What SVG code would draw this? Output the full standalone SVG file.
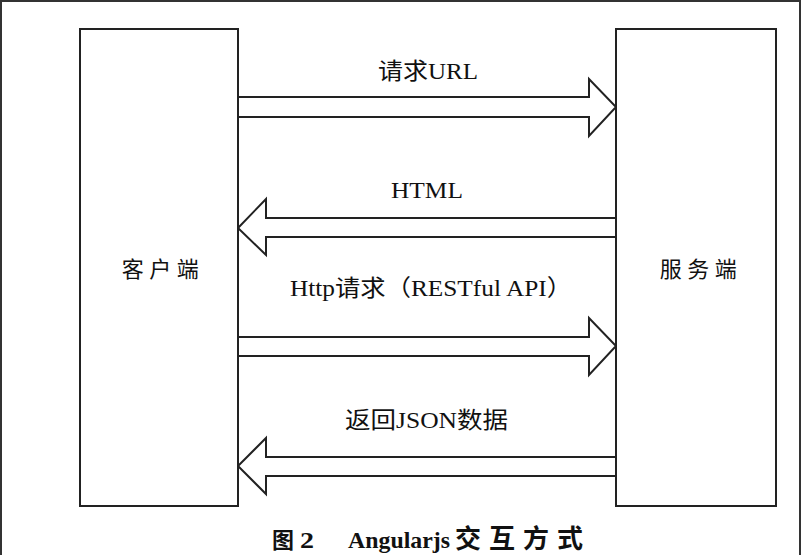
<svg xmlns="http://www.w3.org/2000/svg" width="802" height="555" viewBox="0 0 802 555">
<style>
.box{fill:#fff;stroke:#222;stroke-width:2}
.arr{fill:#fff;stroke:#222;stroke-width:2;stroke-linejoin:miter}
.t{font-family:"Liberation Serif","Noto Sans CJK SC",serif;font-size:23px;fill:#111}
.n{font-family:"Liberation Serif","Noto Sans CJK SC",serif;font-size:22px;fill:#111;text-anchor:middle;letter-spacing:5.5px}
.cap{font-family:"Liberation Serif","Noto Sans CJK SC",serif;font-size:23px;font-weight:bold;fill:#111}
</style>
<rect x="0" y="0" width="802" height="555" fill="#fff"/>
<path d="M1,555 V1 H800 V555" fill="none" stroke="#333" stroke-width="2"/>
<g id="connectors">
<polygon class="arr" points="238,97 589,97 589,79 616,107 589,136 589,117 238,117"/>
<polygon class="arr" points="616,218 266,218 266,199 238,228 266,255 266,237 616,237"/>
<polygon class="arr" points="238,337 589,337 589,318 616,346 589,375 589,356 238,356"/>
<polygon class="arr" points="616,457 266,457 266,438 238,466 266,494 266,476 616,476"/>
<text class="t" x="378" y="79" textLength="100" lengthAdjust="spacingAndGlyphs">请求URL</text>
<text class="t" x="391" y="198" textLength="72" lengthAdjust="spacingAndGlyphs">HTML</text>
<text class="t" x="290" y="296" textLength="282" lengthAdjust="spacingAndGlyphs">Http请求（RESTful API）</text>
<text class="t" x="345" y="428" textLength="163" lengthAdjust="spacingAndGlyphs">返回JSON数据</text>
</g>
<g id="client">
<rect class="box" x="80" y="29" width="158" height="477"/>
<text class="n" x="163" y="277">客户端</text>
</g>
<g id="server">
<rect class="box" x="616" y="29" width="160" height="477"/>
<text class="n" x="701" y="277">服务端</text>
</g>
<text class="cap" y="548"><tspan x="272" font-size="22">图</tspan><tspan x="300" textLength="14" lengthAdjust="spacingAndGlyphs">2</tspan><tspan x="348" textLength="102" lengthAdjust="spacingAndGlyphs">Angularjs</tspan><tspan x="455" font-size="26" letter-spacing="8">交互方式</tspan></text>
</svg>
